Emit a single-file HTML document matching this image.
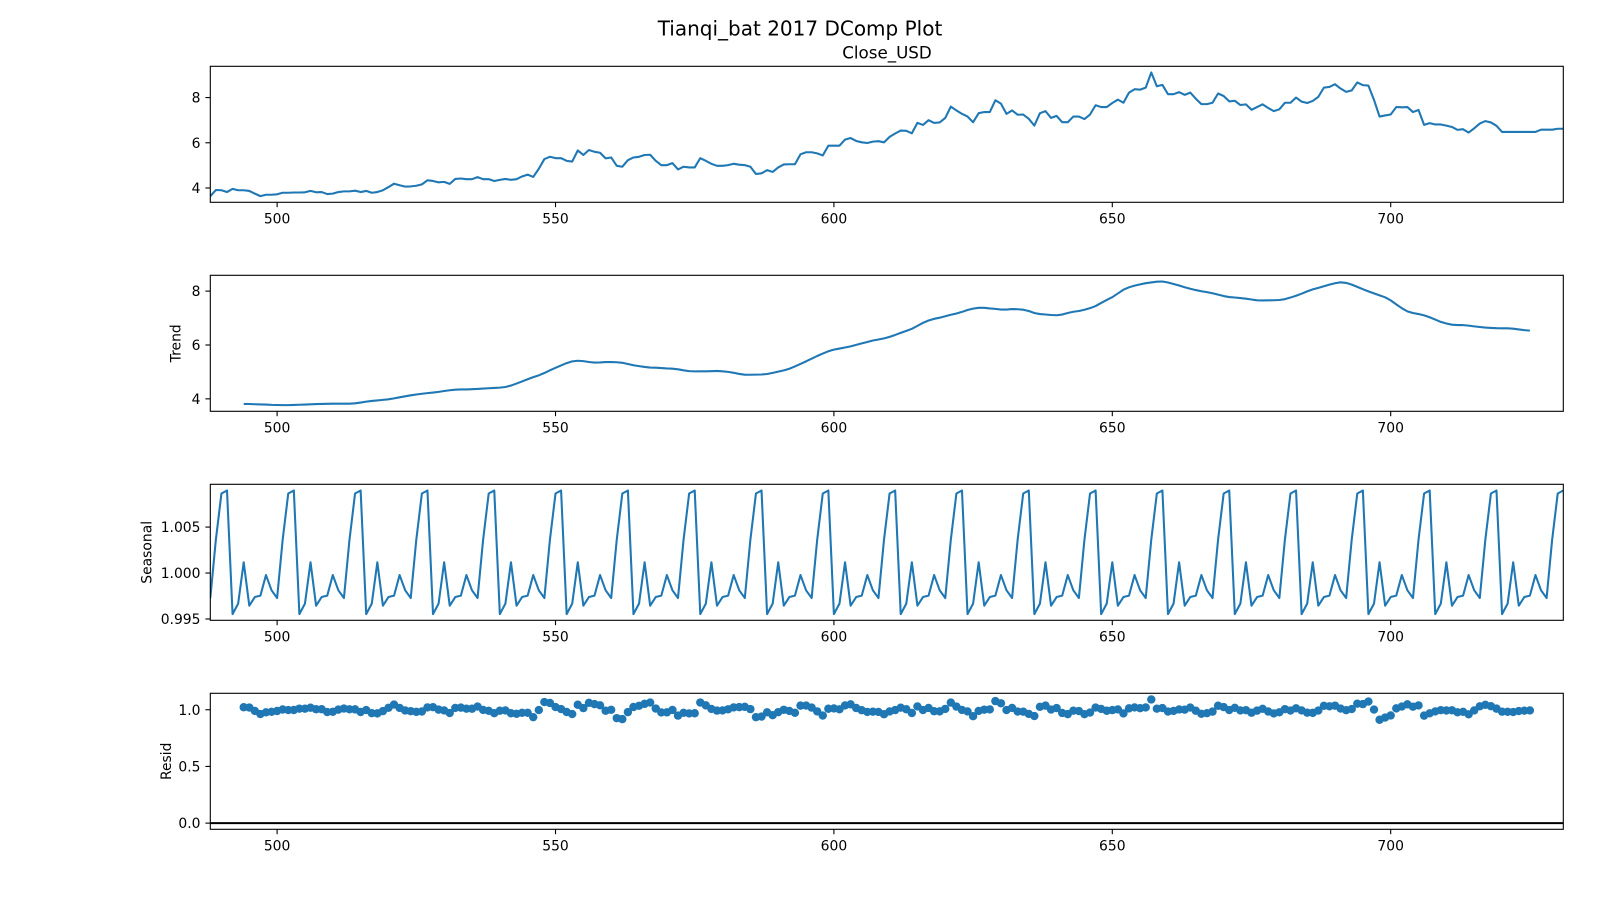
<!DOCTYPE html>
<html><head><meta charset="utf-8"><title>Tianqi_bat 2017 DComp Plot</title>
<style>
html,body{margin:0;padding:0;background:#fff;}
svg{display:block;font-family:"DejaVu Sans","Liberation Sans",sans-serif;}
</style></head>
<body>
<svg id="fig" width="1600" height="900" viewBox="0 0 1600 900" xmlns="http://www.w3.org/2000/svg">
<rect width="1600" height="900" fill="#fff"/>
<text x="800" y="35.5" font-size="20" text-anchor="middle" fill="#000">Tianqi_bat 2017 DComp Plot</text>
<text x="887" y="58.5" font-size="16.7" text-anchor="middle" fill="#000">Close_USD</text>
<g id="plots"></g>
</svg>
<script>
const xStart = 488;
const closeValues = [
3.64,3.91,3.90,3.82,3.96,3.90,3.90,3.87,3.75,3.64,
3.70,3.70,3.72,3.79,3.79,3.80,3.80,3.81,3.87,3.81,3.82,
3.73,3.75,3.82,3.85,3.85,3.88,3.82,3.87,3.79,3.82,
3.90,4.04,4.19,4.12,4.06,4.07,4.10,4.16,4.34,4.31,
4.25,4.27,4.18,4.40,4.42,4.39,4.39,4.48,4.39,4.39,
4.31,4.36,4.40,4.36,4.39,4.51,4.59,4.49,4.85,5.28,
5.38,5.32,5.32,5.20,5.17,5.66,5.46,5.68,5.60,5.56,
5.31,5.35,4.98,4.94,5.23,5.35,5.38,5.46,5.47,
5.20,5.01,5.01,5.10,4.82,4.94,4.91,4.91,5.32,5.20,
5.07,4.98,4.98,5.01,5.07,5.03,5.01,4.94,4.62,4.65,
4.79,4.71,4.91,5.04,5.05,5.05,5.49,5.58,5.58,5.53,
5.44,5.87,5.87,5.87,6.14,6.21,6.08,6.02,5.99,6.05,
6.07,6.02,6.26,6.41,6.54,6.53,6.42,6.88,6.79,7.00,
6.88,6.90,7.10,7.60,7.43,7.28,7.16,6.91,7.31,7.36,
7.36,7.88,7.73,7.28,7.43,7.24,7.25,7.06,6.76,7.31,
7.40,7.10,7.19,6.91,6.91,7.16,7.16,7.05,7.25,
7.66,7.58,7.58,7.76,7.91,7.77,8.22,8.37,8.35,8.44,
9.11,8.50,8.56,8.15,8.15,8.24,8.12,8.22,7.95,7.71,
7.71,7.77,8.18,8.07,7.83,7.86,7.67,7.70,7.46,7.58,
7.70,7.54,7.40,7.48,7.77,7.77,8.00,7.82,7.76,7.85,
8.03,8.44,8.47,8.59,8.40,8.25,8.32,8.67,8.55,8.53,
7.90,7.16,7.21,7.25,7.58,7.57,7.58,7.36,7.45,6.79,
6.87,6.81,6.81,6.76,6.70,6.57,6.60,6.45,6.64,6.85,
6.96,6.90,6.75,6.48,
6.48,6.48,6.48,6.48,6.48,6.48,
6.58,6.58,6.58,6.62,6.62];
const seasonalPattern = [0.99728,1.00364,1.00865,1.00898,0.99553,0.99667,1.00117,0.99645,0.99739,0.99754,0.99978,0.99812];
const period = 12;
const xTicks = [500,550,600,650,700];
const closeTicks = [4,6,8];
const trendTicks = [4,6,8];
const seasonalTicks = [0.995,1.000,1.005];
const seasonalTickLabels = ["0.995","1.000","1.005"];
const residTicks = [0,0.5,1.0];
const residTickLabels = ["0.0","0.5","1.0"];

const NS = "http://www.w3.org/2000/svg";
const root = document.getElementById('plots');
const L = 210.3, R = 1563.3, H = 136;
const tops = [66.3, 275.3, 484.3, 693.3];
const n = closeValues.length;
const xMin = xStart, xMax = xStart + n - 1;
function xs(v){ return L + (v - xMin) / (xMax - xMin) * (R - L); }

const trend = closeValues.map((_, i) => {
  const h = period / 2;
  if (i - h < 0 || i + h >= n) return null;
  let s = 0.5 * closeValues[i - h] + 0.5 * closeValues[i + h];
  for (let k = i - h + 1; k <= i + h - 1; k++) s += closeValues[k];
  return s / period;
});
const seasonal = closeValues.map((_, i) => seasonalPattern[i % period]);
const resid = closeValues.map((c, i) => trend[i] === null ? null : c / (trend[i] * seasonal[i]));

function mk(tag, attrs, parent){
  const e = document.createElementNS(NS, tag);
  for (const k in attrs) e.setAttribute(k, attrs[k]);
  (parent || root).appendChild(e);
  return e;
}
function range(vals, incl){
  let a = vals.filter(v => v !== null);
  if (incl !== undefined) a = a.concat([incl]);
  const mn = Math.min(...a), mx = Math.max(...a), m = (mx - mn) * 0.05;
  return [mn - m, mx + m];
}

const panels = [
  {name:'close', vals:closeValues, ticks:closeTicks, labels:closeTicks.map(String), ylabel:null, type:'line'},
  {name:'trend', vals:trend, ticks:trendTicks, labels:trendTicks.map(String), ylabel:'Trend', ylx:176.7, type:'line'},
  {name:'seasonal', vals:seasonal, ticks:seasonalTicks, labels:seasonalTickLabels, ylabel:'Seasonal', ylx:147.3, type:'line'},
  {name:'resid', vals:resid, ticks:residTicks, labels:residTickLabels, ylabel:'Resid', ylx:167, type:'scatter'}
];

panels.forEach((p, pi) => {
  const top = tops[pi], bot = top + H;
  const [y0, y1] = range(p.vals, p.type === 'scatter' ? 0 : undefined);
  const ys = v => bot - (v - y0) / (y1 - y0) * H;
  const g = mk('g', {});
  
  
  const clipId = 'clip' + pi;
  const cp = mk('clipPath', {id: clipId}, g);
  mk('rect', {x: L, y: top, width: R - L, height: H}, cp);
  const data = mk('g', {'clip-path': 'url(#' + clipId + ')'}, g);
  
  
  if (p.type === 'line') {
    let d = '', started = false;
    p.vals.forEach((v, i) => {
      if (v === null) { started = false; return; }
      d += (started ? 'L' : 'M') + xs(xMin + i).toFixed(2) + ' ' + ys(v).toFixed(2);
      started = true;
    });
    const path = mk('path', {d: d, fill: 'none', stroke: '#1f77b4', 'stroke-width': 2.08, 'stroke-linejoin': 'round'}, data);
    
    
  } else {
    p.vals.forEach((v, i) => {
      if (v === null) return;
      const c = mk('circle', {cx: xs(xMin + i), cy: ys(v), r: 4.2, fill: '#1f77b4'}, data);
      
      
    });
    const zl = mk('line', {x1: L, x2: R, y1: ys(0), y2: ys(0), stroke: '#000', 'stroke-width': 2.08}, data);
    
    
  }
  const frame = mk('rect', {x: L, y: top, width: R - L, height: H, fill: 'none', stroke: '#000', 'stroke-width': 1.1}, g);
  
  
  xTicks.forEach(t => {
    const x = xs(t);
    const tl = mk('line', {x1: x, x2: x, y1: bot, y2: bot + 4.9, stroke: '#000', 'stroke-width': 1.1}, g);
    
    
    const tx = mk('text', {x: x, y: bot + 21, 'font-size': 13.9, 'text-anchor': 'middle', fill: '#000'}, g);
    
    
    tx.textContent = String(t);
  });
  p.ticks.forEach((t, ti) => {
    const y = ys(t);
    const tl = mk('line', {x1: L - 4.9, x2: L, y1: y, y2: y, stroke: '#000', 'stroke-width': 1.1}, g);
    
    
    const tx = mk('text', {x: L - 9.8, y: y + 5, 'font-size': 13.9, 'text-anchor': 'end', fill: '#000'}, g);
    
    
    tx.textContent = p.labels[ti];
  });
  if (p.ylabel) {
    const cy = top + H / 2;
    const yl = mk('text', {x: p.ylx, y: cy, 'font-size': 13.9, 'text-anchor': 'middle', fill: '#000',
      transform: 'rotate(-90 ' + p.ylx + ' ' + cy + ')', 'dominant-baseline': 'central'}, g);
    
    
    yl.textContent = p.ylabel;
  }
});
</script>
</body></html>
